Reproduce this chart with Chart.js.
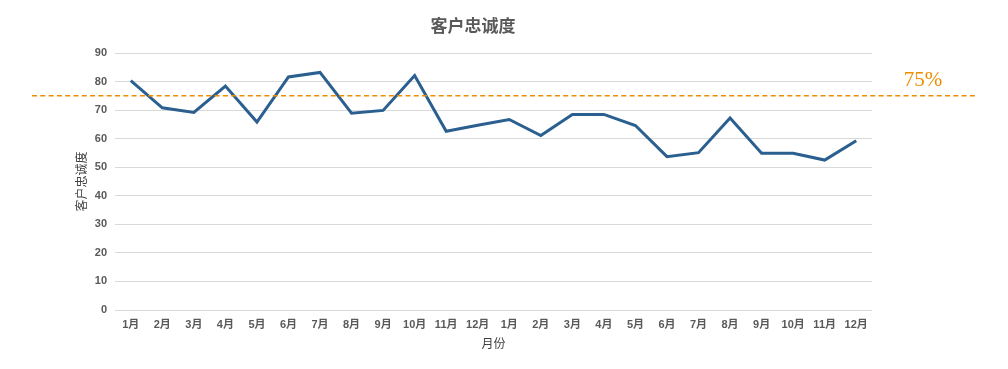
<!DOCTYPE html>
<html>
<head>
<meta charset="utf-8">
<script src="https://cdn.jsdelivr.net/npm/chart.js@4/dist/chart.umd.min.js"></script>
<style>
  html, body { margin: 0; padding: 0; background: #fff; }
  #wrap { width: 1008px; height: 369px; }
</style>
</head>
<body>
<div id="wrap"><canvas id="loyaltyChart" width="1008" height="369"></canvas></div>
<script>
const months = ['1月','2月','3月','4月','5月','6月','7月','8月','9月','10月','11月','12月',
                '1月','2月','3月','4月','5月','6月','7月','8月','9月','10月','11月','12月'];
const loyalty = [80.3, 70.8, 69.2, 78.4, 65.8, 81.6, 83.2, 68.9, 69.9, 82.1, 62.6, 64.7,
                 66.7, 61.1, 68.5, 68.5, 64.6, 53.7, 55.1, 67.2, 54.9, 54.9, 52.5, 59.3];
const targetValue = 75;
const targetLabel = '75%';
const chartTitle = '客户忠诚度';

// dashed target line + label + title drawn on top
const targetLine = {
    id: 'targetLine',
    afterDraw(chart) {
        const c = chart.ctx;
        const y = chart.scales.y.getPixelForValue(targetValue);
        c.save();
        c.strokeStyle = '#f08c00';
        c.lineWidth = 1.5;
        c.setLineDash([5, 3.3]);
        c.beginPath();
        c.moveTo(32, y);
        c.lineTo(975, y);
        c.stroke();
        c.setLineDash([]);
        c.fillStyle = '#f08c00';
        c.font = '21px "Liberation Serif", serif';
        c.textAlign = 'center';
        c.textBaseline = 'middle';
        c.fillText(targetLabel, 923, y - 15);
        c.fillStyle = '#595959';
        c.font = 'bold 17px "Noto Sans CJK SC", sans-serif';
        c.fillText(chartTitle, 473, 26);
        c.restore();
    }
};

const ctx = document.getElementById('loyaltyChart').getContext('2d');
let loyaltyChart = new Chart(ctx, {
    type: 'line',
    data: {
        labels: months,
        datasets: [{
            label: '客户忠诚度',
            data: loyalty,
            borderColor: '#2a5f8f',
            borderWidth: 3,
            pointRadius: 0,
            tension: 0,
            fill: false
        }]
    },
    options: {
        responsive: false,
        animation: false,
        layout: { padding: { left: 74, right: 136, top: 53, bottom: 18 } },
        plugins: {
            legend: { display: false },
            tooltip: { enabled: false }
        },
        scales: {
            x: {
                offset: true,
                grid: { display: false, drawTicks: false },
                border: { display: false },
                ticks: {
                    color: '#595959',
                    padding: 8,
                    maxRotation: 0,
                    autoSkip: false,
                    font: { family: 'Liberation Sans, "Noto Sans CJK SC"', size: 11, weight: 'bold' }
                },
                title: {
                    display: true,
                    text: '月份',
                    color: '#404040',
                    padding: { top: 4, bottom: 0 },
                    font: { family: '"Noto Sans CJK SC"', size: 12 }
                },
                afterFit(scale) { scale.height = 41; }
            },
            y: {
                min: 0,
                max: 90,
                ticks: {
                    stepSize: 10,
                    color: '#595959',
                    padding: 8,
                    font: { family: 'Liberation Sans', size: 11, weight: 'bold' }
                },
                grid: { color: '#d9d9d9', drawTicks: false, lineWidth: 1 },
                border: { display: false },
                title: {
                    display: true,
                    text: '客户忠诚度',
                    color: '#404040',
                    padding: 0,
                    font: { family: '"Noto Sans CJK SC"', size: 12 }
                },
                afterFit(scale) { scale.width = 41; }
            }
        }
    },
    plugins: [targetLine]
});
</script>
</body>
</html>
